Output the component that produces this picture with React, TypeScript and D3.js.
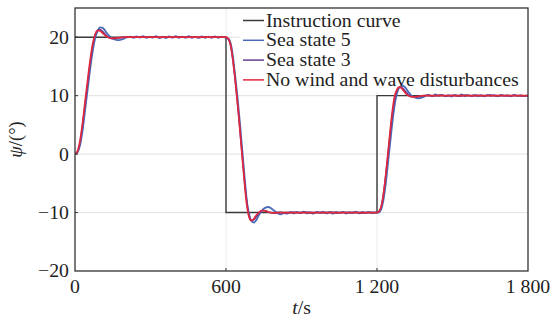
import React from "react";
import * as d3 from "d3";

const W = 550;
const H = 323;

const xTicks = [0, 600, 1200, 1800];
const xTickLabels = ["0", "600", "1 200", "1 800"];
const yTicks = [-20, -10, 0, 10, 20];
const yTickLabels = ["\u221220", "\u221210", "0", "10", "20"];

const seriesNames = ["Instruction curve", "Sea state 5", "Sea state 3", "No wind and wave disturbances"];
const seriesColors = ["#3a3a3a", "#4a6cb8", "#6a3d8f", "#e0283e"];

// Instruction curve (step command)
const instruction: [number, number][] = [
  [0, 20], [600, 20], [600, -10], [1200, -10], [1200, 10], [1800, 10],
];

// Sea state 5
const seaState5: [number, number][] = [
  [0, 0], [10, 0.3], [20, 1.5], [30, 4], [40, 7.5], [50, 11], [60, 14.5], [70, 17.5], [80, 19.8],
  [90, 21.1], [100, 21.7], [110, 21.6], [120, 21.1], [130, 20.5], [145, 19.9], [160, 19.6], [175, 19.5],
  [190, 19.7], [205, 19.95], [220, 20.1], [232, 19.9], [245, 20.15], [258, 19.95], [270, 20.2],
  [283, 19.9], [296, 20.1], [309, 19.95], [322, 20.2], [335, 19.9], [348, 20.1], [361, 19.85],
  [374, 20.15], [387, 19.95], [400, 20.2], [413, 19.9], [426, 20.1], [439, 19.95], [452, 20.2],
  [465, 19.9], [478, 20.1], [491, 19.95], [504, 20.15], [517, 19.9], [530, 20.1], [543, 19.95],
  [556, 20.15], [569, 19.9], [582, 20.1], [595, 20.0], [605, 19.9], [615, 19.4], [625, 17.5],
  [635, 14], [645, 10], [655, 5.5], [665, 0.5], [675, -4.5], [685, -8.7], [695, -10.8],
  [705, -11.6], [712, -11.7], [720, -11.3], [730, -10.5], [742, -9.7], [755, -9.2], [768, -9.05],
  [780, -9.3], [792, -9.7], [805, -10.1], [818, -10.3], [830, -10.1], [843, -10.2], [856, -9.9],
  [869, -10.15], [882, -9.9], [895, -10.1], [908, -9.85], [921, -10.15], [934, -9.95], [947, -10.2],
  [960, -9.9], [973, -10.1], [986, -9.85], [999, -10.15], [1012, -9.95], [1025, -10.2], [1038, -9.9],
  [1051, -10.1], [1064, -9.9], [1077, -10.15], [1090, -9.95], [1103, -10.1], [1116, -9.85],
  [1129, -10.15], [1142, -9.9], [1155, -10.1], [1168, -9.95], [1181, -10.1], [1195, -10.0],
  [1205, -10], [1215, -9.6], [1225, -8], [1235, -5], [1245, -1], [1255, 3], [1265, 6.8], [1275, 9.6],
  [1285, 11.1], [1295, 11.6], [1303, 11.7], [1312, 11.4], [1322, 10.8], [1335, 10.1], [1350, 9.7],
  [1365, 9.55], [1380, 9.7], [1393, 9.95], [1406, 10.15], [1419, 9.9], [1432, 10.2], [1445, 9.95],
  [1458, 10.15], [1471, 9.9], [1484, 10.1], [1497, 9.85], [1510, 10.15], [1523, 9.95], [1536, 10.2],
  [1549, 9.9], [1562, 10.1], [1575, 9.95], [1588, 10.15], [1601, 9.9], [1614, 10.1], [1627, 9.9],
  [1640, 10.15], [1653, 9.95], [1666, 10.1], [1679, 9.9], [1692, 10.15], [1705, 9.95], [1718, 10.1],
  [1731, 9.9], [1744, 10.15], [1757, 9.95], [1770, 10.1], [1783, 9.95], [1800, 10.05],
];

// Sea state 3
const seaState3: [number, number][] = [
  [0, 0], [10, 0.4], [20, 2], [30, 5], [40, 8.5], [50, 12], [60, 15.5], [70, 18.5], [80, 20.4],
  [90, 21.2], [100, 21.3], [110, 21], [120, 20.5], [135, 19.95], [150, 19.75], [170, 19.85],
  [190, 20], [215, 20.1], [240, 19.95], [265, 20.1], [290, 19.95], [315, 20.1], [340, 19.9],
  [365, 20.05], [390, 19.95], [415, 20.1], [440, 19.95], [465, 20.05], [490, 19.9], [515, 20.1],
  [540, 19.95], [565, 20.05], [590, 20], [605, 19.8], [615, 19.1], [625, 16.8], [635, 13.2],
  [645, 9], [655, 4.3], [665, -0.5], [675, -5.2], [685, -9], [695, -11], [703, -11.4], [712, -11.2],
  [722, -10.6], [733, -10], [745, -9.65], [758, -9.7], [772, -9.95], [790, -10.1], [815, -9.95],
  [840, -10.1], [865, -9.95], [890, -10.05], [915, -9.9], [940, -10.1], [965, -9.95], [990, -10.05],
  [1015, -9.9], [1040, -10.1], [1065, -9.95], [1090, -10.05], [1115, -9.95], [1140, -10.1],
  [1165, -9.95], [1195, -10], [1205, -9.9], [1215, -9.2], [1225, -7], [1235, -3.5], [1245, 0.5],
  [1255, 4.5], [1265, 8], [1275, 10.3], [1285, 11.3], [1293, 11.5], [1302, 11.3], [1312, 10.8],
  [1325, 10.15], [1340, 9.8], [1358, 9.8], [1378, 9.95], [1400, 10.05], [1425, 9.95], [1450, 10.1],
  [1475, 9.95], [1500, 10.05], [1525, 9.9], [1550, 10.1], [1575, 9.95], [1600, 10.05], [1625, 9.95],
  [1650, 10.1], [1675, 9.95], [1700, 10.05], [1725, 9.95], [1750, 10.05], [1775, 9.95], [1800, 10],
];

// No wind and wave disturbances
const noDisturbance: [number, number][] = [
  [0, 0], [10, 0.5], [20, 2.3], [30, 5.3], [40, 9], [50, 12.6], [60, 16], [70, 18.8], [80, 20.5],
  [90, 21.15], [100, 21.05], [110, 20.7], [120, 20.3], [135, 19.9], [150, 19.8], [170, 19.9],
  [200, 20], [600, 20], [610, 19.7], [620, 18.3], [630, 15.2], [640, 11.3], [650, 6.8], [660, 1.8],
  [670, -3.2], [680, -7.8], [690, -10.5], [699, -11.35], [708, -11.2], [718, -10.6], [730, -10],
  [742, -9.65], [755, -9.7], [770, -9.95], [790, -10.05], [820, -10], [1200, -10], [1210, -9.7],
  [1220, -8.4], [1230, -5.4], [1240, -1.4], [1250, 3], [1260, 7], [1270, 9.9], [1280, 11.1],
  [1289, 11.45], [1298, 11.25], [1308, 10.7], [1322, 10.05], [1340, 9.8], [1360, 9.85],
  [1385, 10], [1800, 10],
];

const margin = { left: 75, right: 22, top: 8, bottom: 52 };
const FONT = "Liberation Serif";
const FS = 18.5;
const SX = 1.07;

function T(props: {
  x: number;
  y: number;
  anchor?: "start" | "middle" | "end";
  dy?: string;
  children: React.ReactNode;
}) {
  return (
    <text
      transform={`translate(${props.x},${props.y}) scale(${SX},1)`}
      dy={props.dy}
      textAnchor={props.anchor || "start"}
      fontFamily={FONT}
      fontSize={FS}
      fill="#222"
    >
      {props.children}
    </text>
  );
}

export default function App() {
  const x = d3.scaleLinear().domain([0, 1800]).range([margin.left, W - margin.right]);
  const y = d3.scaleLinear().domain([-20, 25]).range([H - margin.bottom, margin.top]);

  const smooth = d3
    .line<[number, number]>()
    .x((d) => x(d[0]))
    .y((d) => y(d[1]))
    .curve(d3.curveMonotoneX);
  const straight = d3
    .line<[number, number]>()
    .x((d) => x(d[0]))
    .y((d) => y(d[1]));

  const x0 = x(0);
  const x1 = x(1800);
  const y0 = y(-20);
  const y1 = y(25);

  const legendX = 243;
  const legendY = 20.5;
  const legendGap = 19.8;

  return (
    <svg width={W} height={H} style={{ position: "absolute", left: 0, top: 0, background: "#fff" }}>
      <defs>
        <clipPath id="plotclip">
          <rect x={x0} y={y1} width={x1 - x0} height={y0 - y1} />
        </clipPath>
      </defs>
      <rect x={0} y={0} width={W} height={H} fill="#fff" />
      {/* gridlines */}
      {yTicks.filter((v) => v > -20).map((v) => (
        <line key={"gy" + v} x1={x0} x2={x1} y1={y(v)} y2={y(v)} stroke="#e2e2e2" strokeWidth={1} />
      ))}
      {xTicks.filter((v) => v > 0 && v < 1800).map((v) => (
        <line key={"gx" + v} x1={x(v)} x2={x(v)} y1={y0} y2={y1} stroke="#ececec" strokeWidth={1} />
      ))}
      {/* legend background */}
      <rect x={legendX - 3} y={y1 + 1} width={x1 - legendX + 2} height={83} fill="#fff" />
      {/* series */}
      <g clipPath="url(#plotclip)" fill="none">
        <path d={straight(instruction) || ""} stroke={seriesColors[0]} strokeWidth={1.4} />
        <path d={smooth(seaState5) || ""} stroke={seriesColors[1]} strokeWidth={1.8} />
        <path d={smooth(seaState3) || ""} stroke={seriesColors[2]} strokeWidth={1.5} />
        <path d={smooth(noDisturbance) || ""} stroke={seriesColors[3]} strokeWidth={1.7} />
      </g>
      {/* ticks */}
      {yTicks.filter((v) => v > -20).map((v) => (
        <line key={"ty" + v} x1={x0} x2={x0 + 3} y1={y(v)} y2={y(v)} stroke="#333" strokeWidth={1} />
      ))}
      {xTicks.filter((v) => v > 0 && v < 1800).map((v) => (
        <line key={"tx" + v} x1={x(v)} x2={x(v)} y1={y0} y2={y0 - 3} stroke="#333" strokeWidth={1} />
      ))}
      {/* frame */}
      <rect x={x0} y={y1} width={x1 - x0} height={y0 - y1} fill="none" stroke="#333" strokeWidth={1.3} />
      {/* y tick labels */}
      {yTicks.map((v, i) => (
        <T key={"ly" + v} x={x0 - 6} y={y(v)} dy="0.35em" anchor="end">
          {yTickLabels[i]}
        </T>
      ))}
      {/* x tick labels */}
      {xTicks.map((v, i) => (
        <T key={"lx" + v} x={x(v)} y={y0 + 22} anchor="middle">
          {xTickLabels[i]}
        </T>
      ))}
      {/* axis titles */}
      <T x={(x0 + x1) / 2} y={H - 9} anchor="middle">
        <tspan fontStyle="italic">t</tspan>/s
      </T>
      <text
        transform={`translate(${22},${(y0 + y1) / 2}) rotate(-90)`}
        textAnchor="middle"
        fontFamily={FONT}
        fontSize={FS}
        fill="#222"
      >
        <tspan fontStyle="italic">ψ</tspan>/(°)
      </text>
      {/* legend */}
      {seriesNames.map((name, i) => (
        <g key={name}>
          <line
            x1={legendX}
            x2={legendX + 21}
            y1={legendY + i * legendGap}
            y2={legendY + i * legendGap}
            stroke={seriesColors[i]}
            strokeWidth={1.5}
          />
          <T x={legendX + 23} y={legendY + i * legendGap} dy="0.33em">
            {name}
          </T>
        </g>
      ))}
    </svg>
  );
}
